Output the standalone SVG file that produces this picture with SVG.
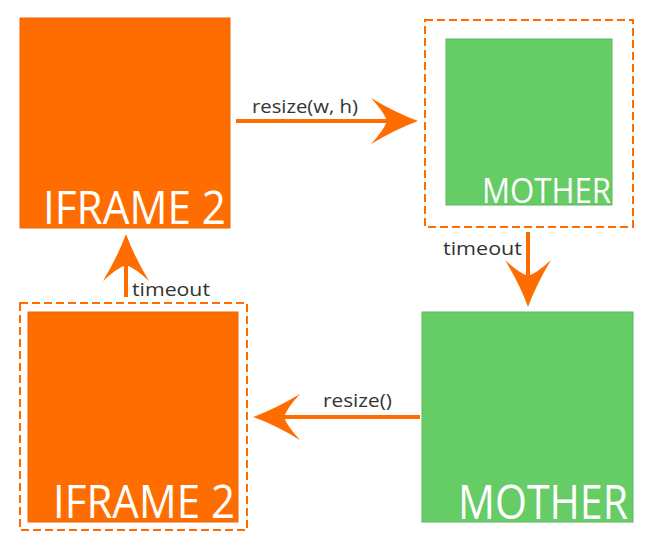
<svg xmlns="http://www.w3.org/2000/svg" width="654" height="546" viewBox="0 0 654 546">
<style>
.iframe{fill:#ff6d00;stroke:#e8680a;stroke-width:1}
.mother{fill:#66cc66;stroke:#5db85d;stroke-width:1}
.frame{fill:none;stroke:#ff6d00;stroke-width:2;stroke-dasharray:8 4}
.big{font-family:"Open Sans","DejaVu Sans",sans-serif;fill:#ffffff}
.lbl{font-family:"Open Sans","DejaVu Sans",sans-serif;fill:#333333;font-size:19px}
.shaft{stroke:#ff6d00;stroke-width:4;fill:none}
.head{fill:#ff6d00}
</style>
<defs>
<path id="ah" d="M0,0 Q-22,-8 -47,-23 Q-34,-9 -31,0 Q-34,9 -47,23 Q-22,8 0,0 Z"/>
</defs>
<rect width="654" height="546" fill="#ffffff"/>
<g id="iframe-top">
<rect class="iframe" x="20" y="18" width="210" height="210"/>
<text class="big" x="43" y="224" font-size="46" textLength="183" lengthAdjust="spacingAndGlyphs">IFRAME 2</text>
</g>
<g id="mother-top">
<rect class="frame" x="425" y="20" width="208" height="207"/>
<rect class="mother" x="446" y="39" width="166" height="166"/>
<text class="big" x="482" y="203" font-size="35" textLength="129" lengthAdjust="spacingAndGlyphs">MOTHER</text>
</g>
<g id="mother-bottom">
<rect class="mother" x="422" y="312" width="211" height="210"/>
<text class="big" x="458" y="519" font-size="47" textLength="170" lengthAdjust="spacingAndGlyphs">MOTHER</text>
</g>
<g id="iframe-bottom">
<rect class="frame" x="20" y="303" width="227" height="227"/>
<rect class="iframe" x="28" y="312" width="210" height="210"/>
<text class="big" x="53" y="518" font-size="46" textLength="182" lengthAdjust="spacingAndGlyphs">IFRAME 2</text>
</g>
<g id="connectors">
<line class="shaft" x1="236" y1="121" x2="392" y2="121"/>
<use href="#ah" class="head" transform="translate(418,121)"/>
<text class="lbl" x="252" y="113" textLength="106" lengthAdjust="spacingAndGlyphs">resize(w, h)</text>
<line class="shaft" x1="528" y1="232" x2="528" y2="280"/>
<use href="#ah" class="head" transform="translate(528,307) rotate(90)"/>
<text class="lbl" x="443" y="255" textLength="79" lengthAdjust="spacingAndGlyphs">timeout</text>
<line class="shaft" x1="420" y1="417" x2="280" y2="417"/>
<use href="#ah" class="head" transform="translate(253,417) rotate(180)"/>
<text class="lbl" x="323" y="407" textLength="69" lengthAdjust="spacingAndGlyphs">resize()</text>
<line class="shaft" x1="126" y1="297" x2="126" y2="262"/>
<use href="#ah" class="head" transform="translate(126,234) rotate(-90)"/>
<text class="lbl" x="132" y="296" textLength="78" lengthAdjust="spacingAndGlyphs">timeout</text>
</g>
</svg>
